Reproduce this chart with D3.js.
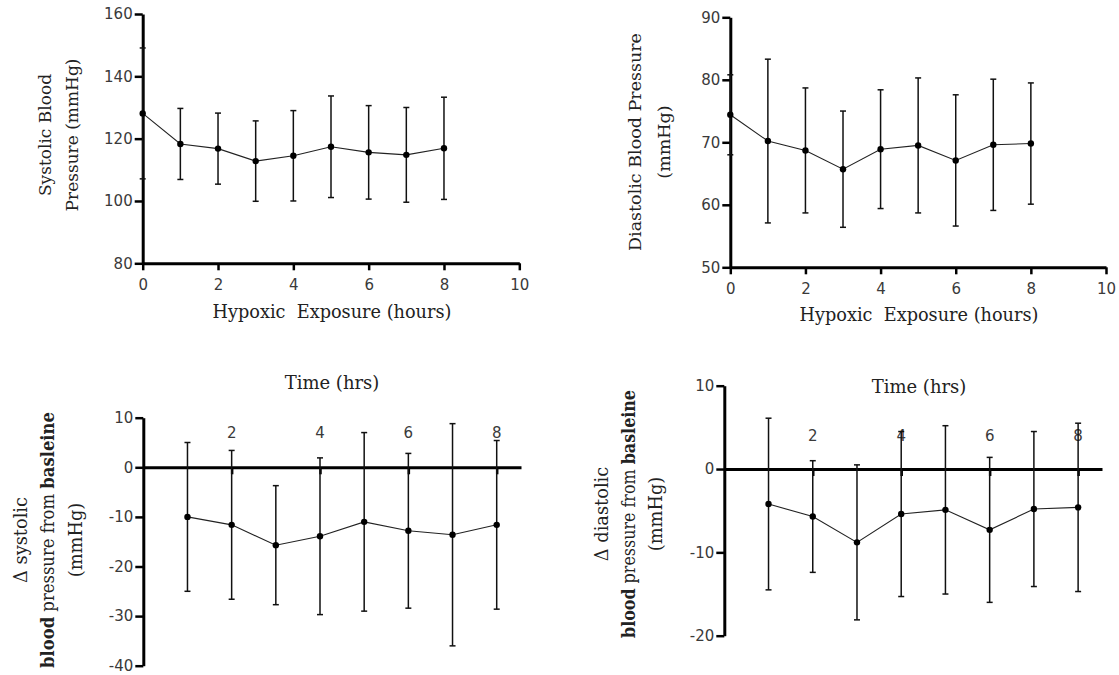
<!DOCTYPE html>
<html>
<head>
<meta charset="utf-8">
<script src="https://cdn.jsdelivr.net/npm/d3@7"></script>
<style>
  html, body { margin: 0; padding: 0; background: #fff; }
  svg { display: block; }
  .tick text { font-family: "DejaVu Sans", Verdana, sans-serif; font-size: 15px; fill: #3a3a3a; }
  .title { font-family: "DejaVu Serif", Cambria, serif; fill: #222; }
</style>
</head>
<body>
<svg id="chart" width="1119" height="675"></svg>
<script>
// Hours of hypoxic exposure
const hours = [0, 1, 2, 3, 4, 5, 6, 7, 8];
const hourTicks = [0, 2, 4, 6, 8, 10];

// Absolute blood pressure (mean ± SD, mmHg)
const sbpMean = [128.1, 118.3, 116.8, 112.8, 114.5, 117.4, 115.6, 114.8, 116.9];
const sbpSD   = [21.0, 11.4, 11.4, 12.9, 14.5, 16.3, 15.0, 15.2, 16.4];
const sbpTicks = [80, 100, 120, 140, 160];

const dbpMean = [74.4, 70.2, 68.7, 65.7, 68.9, 69.5, 67.1, 69.6, 69.8];
const dbpSD   = [6.4, 13.1, 10.0, 9.3, 9.5, 10.8, 10.5, 10.5, 9.7];
const dbpTicks = [50, 60, 70, 80, 90];

// Change from baseline (mean ± SD, mmHg)
const deltaHours = [1, 2, 3, 4, 5, 6, 7, 8];
const timeLabels = [2, 4, 6, 8];

const dSbpMean = [-10.0, -11.6, -15.7, -13.9, -11.0, -12.8, -13.6, -11.6];
const dSbpSD   = [15.0, 15.0, 12.0, 15.8, 18.0, 15.6, 22.4, 17.0];
const dSbpTicks = [-40, -30, -20, -10, 0, 10];

const dDbpMean = [-4.2, -5.7, -8.8, -5.4, -4.9, -7.3, -4.8, -4.6];
const dDbpSD   = [10.3, 6.7, 9.3, 9.9, 10.1, 8.7, 9.3, 10.1];
const dDbpTicks = [-20, -10, 0, 10];

const svg = d3.select("#chart");

function styleAxis(g) {
  g.select(".domain").attr("stroke", "#000").attr("stroke-width", 3);
  g.selectAll(".tick line").attr("stroke", "#000").attr("stroke-width", 2.5);
}

function drawSeries(g, x, y, xs, means, sds) {
  const rows = xs.map((h, i) => ({ h, m: means[i], s: sds[i] }));
  const capW = 3;
  const bars = g.append("g").attr("stroke", "#111").attr("stroke-width", 1.5);
  rows.forEach(r => {
    const x0 = x(r.h), yt = y(r.m + r.s), yb = y(r.m - r.s);
    bars.append("line").attr("x1", x0).attr("x2", x0).attr("y1", yt).attr("y2", yb);
    bars.append("line").attr("x1", x0 - capW).attr("x2", x0 + capW).attr("y1", yt).attr("y2", yt);
    bars.append("line").attr("x1", x0 - capW).attr("x2", x0 + capW).attr("y1", yb).attr("y2", yb);
  });
  g.append("path")
    .datum(rows)
    .attr("fill", "none")
    .attr("stroke", "#222")
    .attr("stroke-width", 1.1)
    .attr("d", d3.line().x(d => x(d.h)).y(d => y(d.m)));
  g.append("g").selectAll("circle")
    .data(rows).join("circle")
    .attr("cx", d => x(d.h)).attr("cy", d => y(d.m))
    .attr("r", 3.2).attr("fill", "#000");
}

function rotatedTitle(lines, cy, size) {
  lines.forEach(l => {
    const t = svg.append("text")
      .attr("class", "title")
      .attr("transform", `translate(${l.x},${cy}) rotate(-90)`)
      .attr("text-anchor", "middle")
      .attr("dominant-baseline", "central")
      .attr("font-size", size);
    if (l.len) t.attr("textLength", l.len).attr("lengthAdjust", "spacingAndGlyphs");
    l.parts.forEach(p => {
      t.append("tspan").attr("font-weight", p.bold ? "bold" : "normal").text(p.text);
    });
  });
}

// ---------- Absolute pressure panels ----------
function absolutePanel(opts) {
  const x = d3.scaleLinear().domain([0, 10]).range(opts.xr);
  const y = d3.scaleLinear().domain(opts.yd).range(opts.yr);
  const g = svg.append("g");

  g.append("g")
    .attr("transform", `translate(0,${opts.yr[0]})`)
    .call(d3.axisBottom(x).tickValues(hourTicks).tickSize(7).tickSizeOuter(0).tickPadding(9))
    .call(styleAxis);
  g.append("g")
    .attr("transform", `translate(${opts.xr[0]},0)`)
    .call(d3.axisLeft(y).tickValues(opts.ticks).tickSize(8).tickSizeOuter(0).tickPadding(2))
    .call(styleAxis);

  drawSeries(g, x, y, hours, opts.mean, opts.sd);

  svg.append("text")
    .attr("class", "title")
    .attr("x", opts.xTitle[0]).attr("y", opts.xTitle[1])
    .attr("text-anchor", "middle")
    .attr("font-size", 17.7)
    .attr("xml:space", "preserve")
    .text("Hypoxic  Exposure (hours)");
  rotatedTitle(opts.yTitle, opts.yTitleCy, opts.yTitleSize);
}

absolutePanel({
  xr: [142.7, 519.3], yr: [263.3, 14], yd: [80, 160], ticks: sbpTicks,
  mean: sbpMean, sd: sbpSD, xTitle: [332, 318], yTitleCy: 135, yTitleSize: 17,
  yTitle: [
    { x: 45, parts: [{ text: "Systolic Blood" }] },
    { x: 72, parts: [{ text: "Pressure (mmHg)" }] }
  ]
});

absolutePanel({
  xr: [730.3, 1106], yr: [267.3, 17.3], yd: [50, 90], ticks: dbpTicks,
  mean: dbpMean, sd: dbpSD, xTitle: [919, 321], yTitleCy: 142, yTitleSize: 17.5,
  yTitle: [
    { x: 635, parts: [{ text: "Diastolic Blood Pressure" }] },
    { x: 664, parts: [{ text: "(mmHg)" }] }
  ]
});

// ---------- Change-from-baseline panels ----------
function deltaPanel(opts) {
  const x = d3.scaleLinear().domain(opts.xd).range(opts.xr);
  const y = d3.scaleLinear().domain(opts.yd).range(opts.yr);
  const g = svg.append("g");

  g.append("g")
    .attr("transform", `translate(${opts.xr[0]},0)`)
    .call(d3.axisLeft(y).tickValues(opts.ticks).tickSize(8).tickSizeOuter(0).tickPadding(2)
      .tickFormat(d => String(d)))
    .call(styleAxis);

  // zero line carrying the hour ticks
  g.append("g")
    .attr("transform", `translate(0,${y(0)})`)
    .call(d3.axisBottom(x).tickValues(timeLabels).tickSize(7).tickSizeOuter(0).tickFormat(""))
    .call(styleAxis);

  g.append("g").selectAll("text")
    .data(timeLabels).join("text")
    .attr("x", d => x(d)).attr("y", y(0) - opts.labelGap)
    .attr("text-anchor", "middle")
    .attr("font-family", "DejaVu Sans, Verdana, sans-serif")
    .attr("font-size", 15).attr("fill", "#3a3a3a")
    .text(d => d);

  drawSeries(g, x, y, deltaHours, opts.mean, opts.sd);

  svg.append("text")
    .attr("class", "title")
    .attr("x", opts.timeTitle[0]).attr("y", opts.timeTitle[1])
    .attr("text-anchor", "middle")
    .attr("font-size", 18)
    .text("Time (hrs)");
  rotatedTitle(opts.yTitle, opts.yTitleCy, 17.8);
}

deltaPanel({
  xd: [0, 8.55], xr: [143.3, 521], yd: [-40, 10], yr: [665.7, 417.7], ticks: dSbpTicks,
  mean: dSbpMean, sd: dSbpSD, labelGap: 29.5, timeTitle: [332, 389], yTitleCy: 540,
  yTitle: [
    { x: 20, parts: [{ text: "Δ systolic" }] },
    { x: 47, len: 256, parts: [{ text: "blood", bold: true }, { text: " pressure from " }, { text: "basleine", bold: true }] },
    { x: 75, parts: [{ text: "(mmHg)" }] }
  ]
});

deltaPanel({
  xd: [0, 8.54], xr: [724.3, 1102], yd: [-20, 10], yr: [635.7, 385.7], ticks: dDbpTicks,
  mean: dDbpMean, sd: dDbpSD, labelGap: 28.5, timeTitle: [919, 392.5], yTitleCy: 514,
  yTitle: [
    { x: 601, parts: [{ text: "Δ diastolic" }] },
    { x: 628, len: 248, parts: [{ text: "blood", bold: true }, { text: " pressure from " }, { text: "basleine", bold: true }] },
    { x: 655, parts: [{ text: "(mmHg)" }] }
  ]
});
</script>
</body>
</html>
